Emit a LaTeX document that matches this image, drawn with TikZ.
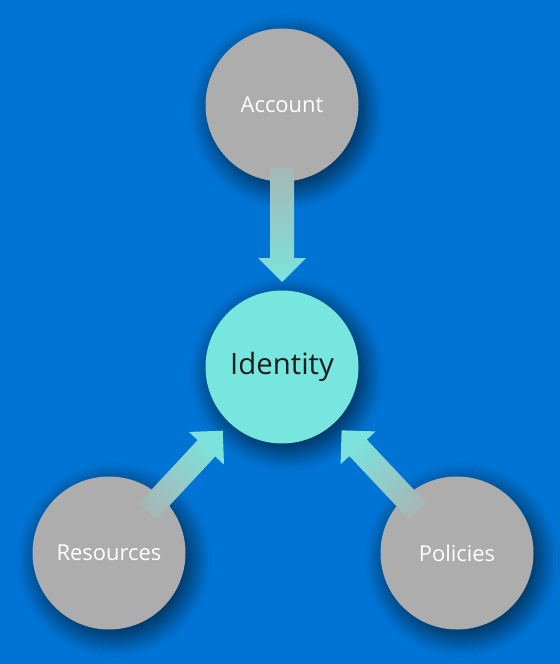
\documentclass[tikz,border=0pt]{standalone}
\usepackage{fontspec}
\setmainfont{Open Sans}
\usetikzlibrary{calc,shadows.blur}
\definecolor{bg}{HTML}{0074D4}
\definecolor{nodegrey}{HTML}{ADADAD}
\definecolor{idteal}{HTML}{76E6DF}
\definecolor{idtext}{HTML}{1E1E1E}
\definecolor{arrtail}{HTML}{A4B8B8}
\definecolor{arrhead}{HTML}{7CE3DC}
\tikzset{
  circ/.style={circle, minimum size=153bp, inner sep=0pt, fill=nodegrey, text=white,
    font=\fontsize{22}{26}\selectfont,
    blur shadow={shadow xshift=5bp, shadow yshift=-7bp, shadow blur radius=20bp,
      shadow blur steps=40, shadow opacity=70}},
  idcirc/.style={circ, fill=idteal, text=idtext, font=\fontsize{29.5}{34}\selectfont},
  blockarr/.style={opacity=1},
}
\newcommand\blockarrow[5]{%
  \coordinate (T) at ($(#1)!#3!(#2)$);
  \coordinate (P) at ($(#2)!#4!(#1)$);
  \coordinate (H) at ($(P)!24bp!(#1)$);
  \shade[blockarr, #5] ($(T)!12bp!90:(#2)$) -- ($(H)!12bp!90:(P)$) -- ($(H)!24bp!90:(P)$)
    -- (P) -- ($(H)!24bp!-90:(P)$) -- ($(H)!12bp!-90:(P)$) -- ($(T)!12bp!-90:(#2)$) -- cycle;
}
\begin{document}
\begin{tikzpicture}[x=1bp,y=-1bp]
\useasboundingbox (0,0) rectangle (560,664);
\clip (0,0) rectangle (560,664);
\fill[bg] (-3,-3) rectangle (563,667);
\node[circ] (acc) at (282,105) {Account};
\node[idcirc] (id) at (282,367) {Identity};
\node[circ] (res) at (109,553) {Resources};
\node[circ] (pol) at (457,553) {Policies};
\blockarrow{acc}{id}{63bp}{85bp}{top color=arrtail, bottom color=arrhead}
\blockarrow{res}{id}{57bp}{87bp}{bottom color=arrtail, top color=arrhead, shading angle=-45}
\blockarrow{pol}{id}{57bp}{87bp}{bottom color=arrtail, top color=arrhead, shading angle=45}
\end{tikzpicture}
\end{document}
